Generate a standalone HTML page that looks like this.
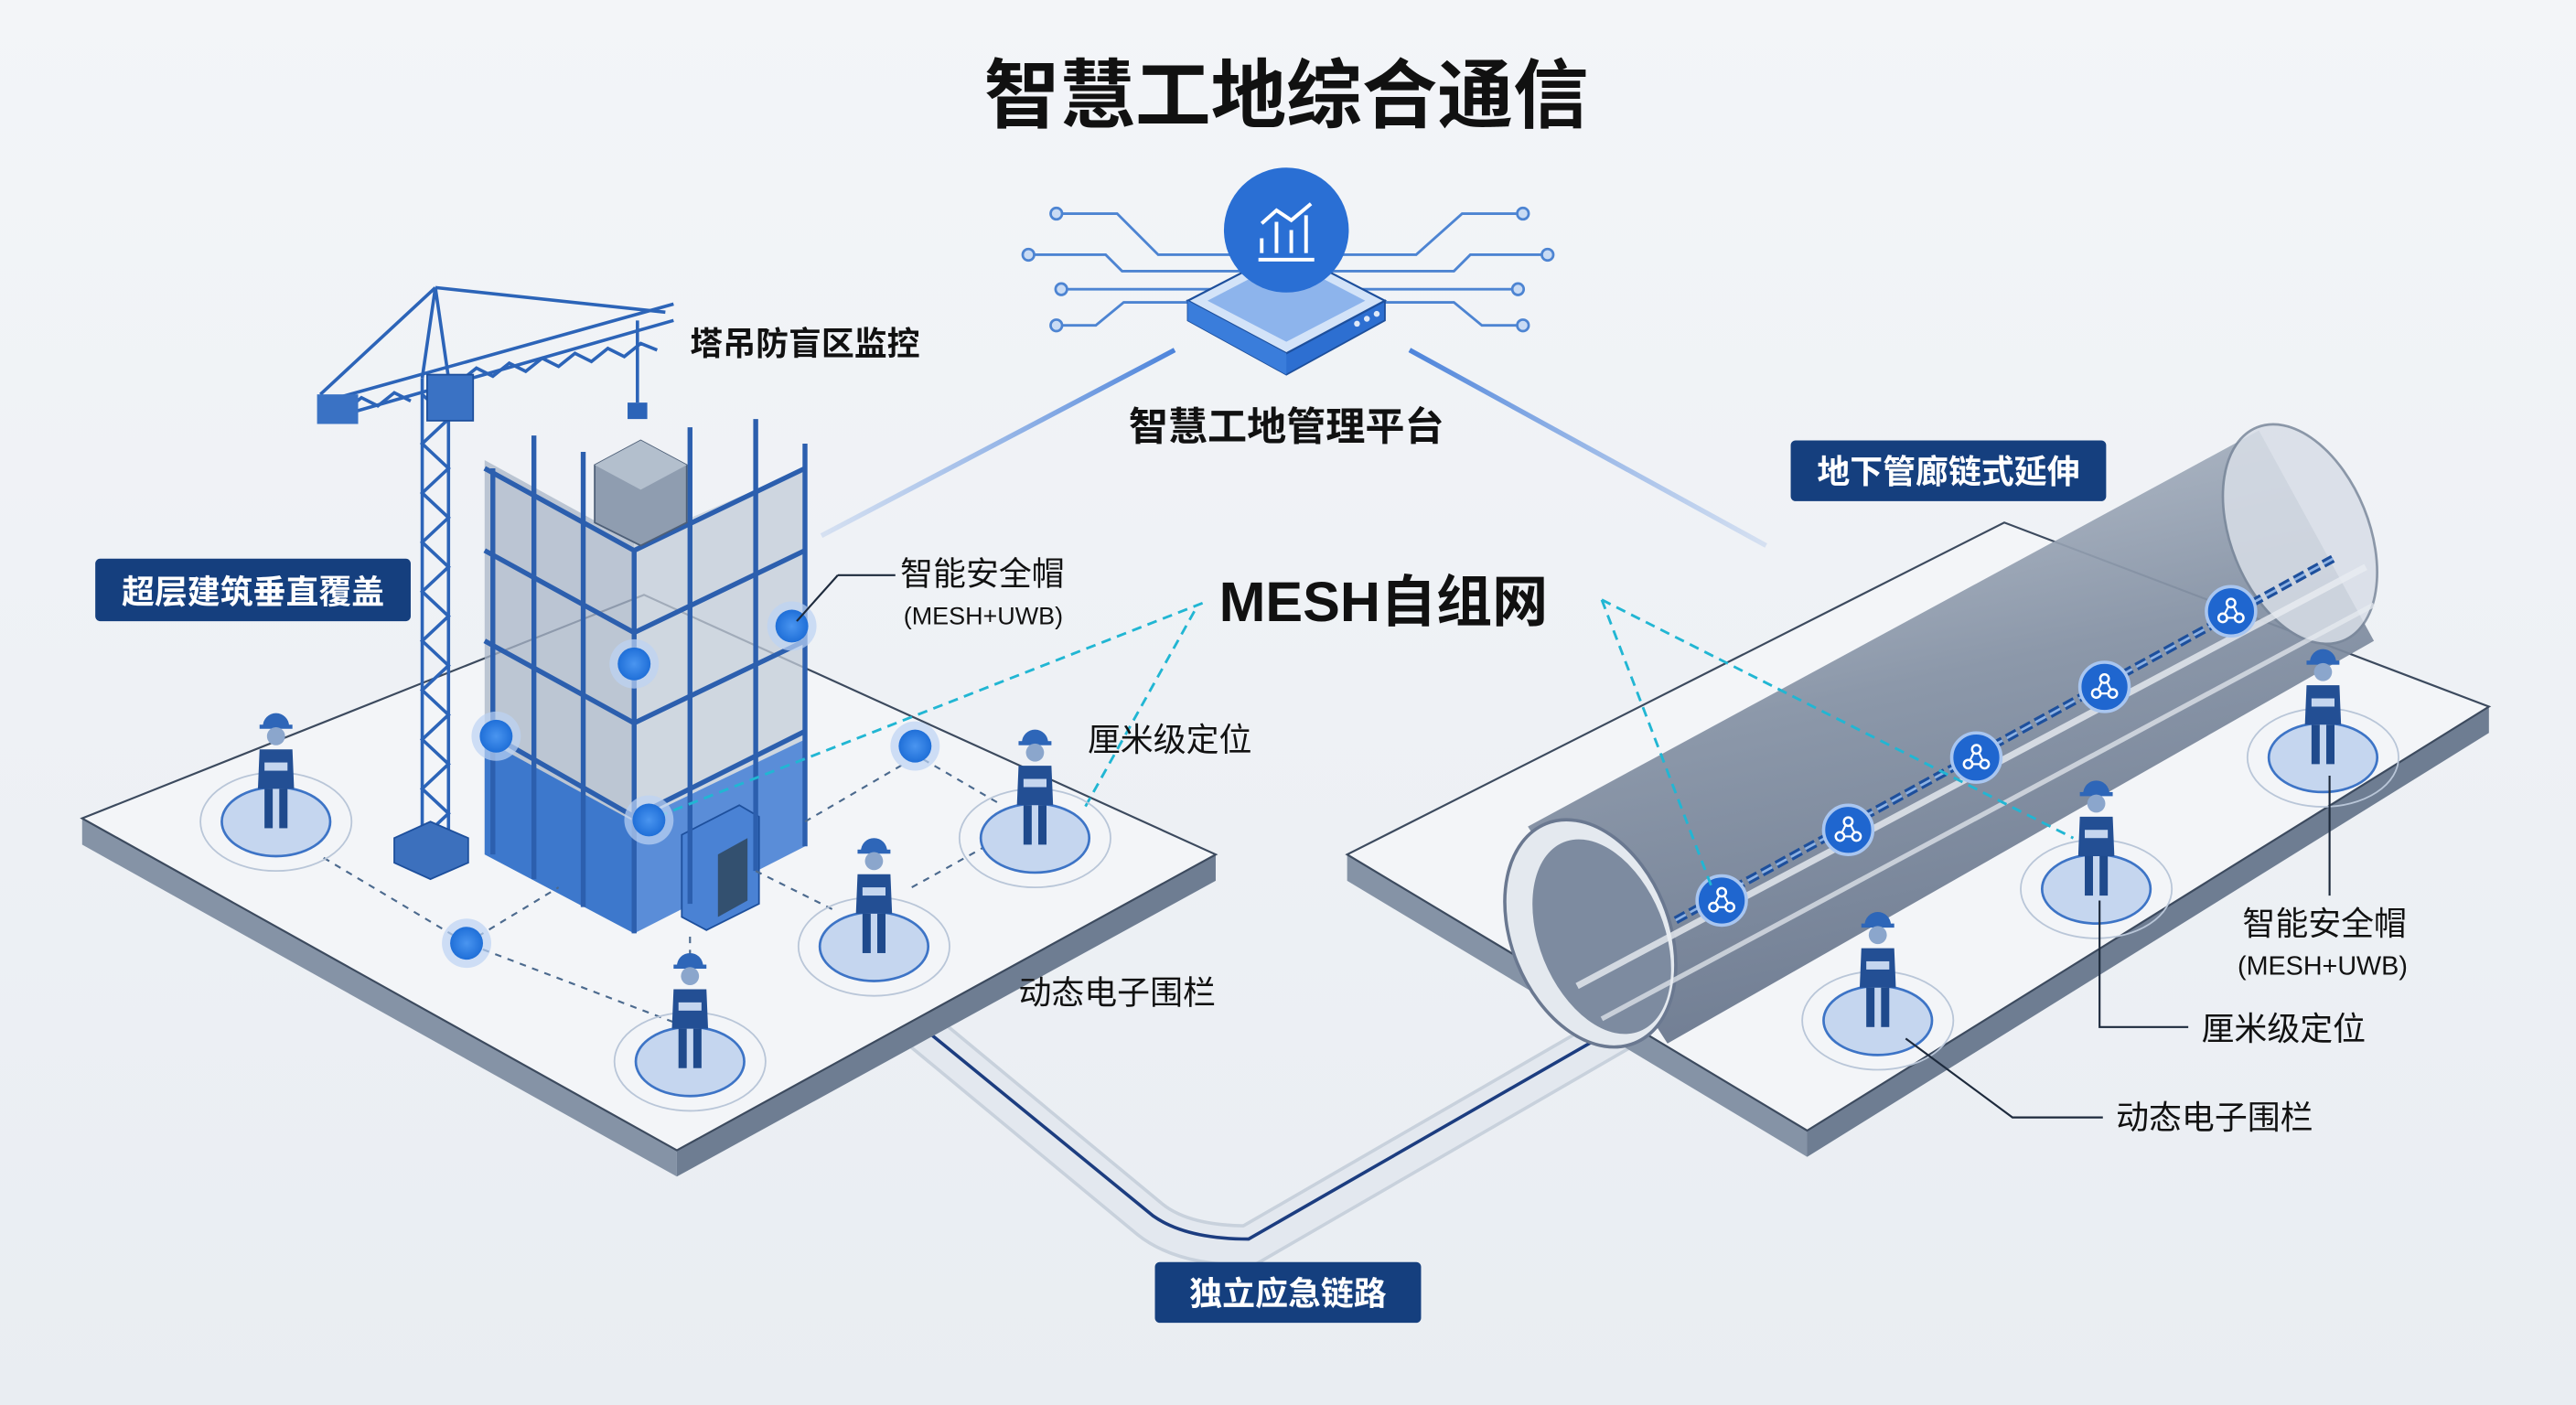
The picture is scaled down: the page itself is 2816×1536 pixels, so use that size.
<!DOCTYPE html>
<html><head><meta charset="utf-8"><style>
html,body{margin:0;padding:0;background:#eef1f5;}
svg{display:block;}
text{font-family:"Liberation Sans","Noto Sans CJK SC",sans-serif;}
</style></head><body>
<svg width="2816" height="1536" viewBox="0 0 1568 855" preserveAspectRatio="none" xmlns="http://www.w3.org/2000/svg">
<defs>
<linearGradient id="bg" x1="0" y1="0" x2="0" y2="1"><stop offset="0" stop-color="#f3f5f8"/><stop offset="1" stop-color="#e9edf2"/></linearGradient>
<linearGradient id="tun" x1="0" y1="0" x2="0.3" y2="1"><stop offset="0" stop-color="#bcc5d1"/><stop offset="0.5" stop-color="#8390a3"/><stop offset="1" stop-color="#65738a"/></linearGradient>
<linearGradient id="ln" x1="0" y1="0" x2="1" y2="0"><stop offset="0" stop-color="#6f9be0" stop-opacity="0.2"/><stop offset="1" stop-color="#4d84db"/></linearGradient>
<linearGradient id="ln2" x1="0" y1="0" x2="1" y2="0"><stop offset="0" stop-color="#4d84db"/><stop offset="1" stop-color="#6f9be0" stop-opacity="0.2"/></linearGradient>
<radialGradient id="nd"><stop offset="0" stop-color="#4a95f0"/><stop offset="1" stop-color="#1f6fd8"/></radialGradient>
<g id="worker">
<ellipse cx="0" cy="18" rx="46" ry="30" fill="none" stroke="#b9c6d8" stroke-width="1"/>
<ellipse cx="0" cy="18" rx="33" ry="21" fill="#c5d6ef" stroke="#3d74c6" stroke-width="1.5"/>
<path d="M-8,-40 a8,8 0 0 1 16,0 z" fill="#2e66b8"/>
<rect x="-10" y="-41" width="20" height="2.5" fill="#2e66b8"/>
<circle cx="0" cy="-34" r="5.5" fill="#8ba6cc"/>
<path d="M-10,-26 h20 l1,24 h-22 z" fill="#234f94"/>
<rect x="-7" y="-18" width="14" height="5" fill="#c5d6ef"/>
<rect x="-7" y="-2" width="5" height="24" fill="#1f4a8c"/>
<rect x="2" y="-2" width="5" height="24" fill="#1f4a8c"/>
</g>
<g id="node">
<circle r="15" fill="#bcd3f3" opacity="0.7"/>
<circle r="10" fill="url(#nd)"/>
</g>
<g id="tnode">
<circle r="15" fill="#1f66cf" stroke="#a9c6f0" stroke-width="2"/>
<circle cx="0" cy="-5" r="2.6" fill="none" stroke="#fff" stroke-width="1.4"/>
<circle cx="-5" cy="4" r="2.6" fill="none" stroke="#fff" stroke-width="1.4"/>
<circle cx="5" cy="4" r="2.6" fill="none" stroke="#fff" stroke-width="1.4"/>
<path d="M-1.5,-3 L-4,2 M1.5,-3 L4,2 M-2.5,4 H2.5" stroke="#fff" stroke-width="1.2"/>
</g>
</defs>
<rect width="1568" height="855" fill="url(#bg)"/>

<text x="783" y="74" font-size="46" font-weight="bold" text-anchor="middle" fill="#111">智慧工地综合通信</text>

<line x1="500" y1="326" x2="715" y2="213" stroke="url(#ln)" stroke-width="3"/>
<line x1="858" y1="213" x2="1075" y2="332" stroke="url(#ln2)" stroke-width="3"/>

<g stroke="#4d84d2" stroke-width="1.6" fill="none">
<path d="M645,130 H680 L705,155 H760"/><path d="M628,155 H673 L683,165 H760"/>
<path d="M648,176 H760"/><path d="M645,198 H667 L684,184 H735"/>
<path d="M925,130 H890 L862,155 H810"/><path d="M940,155 H895 L885,165 H810"/>
<path d="M922,176 H810"/><path d="M925,198 H902 L885,184 H835"/>
</g>
<g fill="#c9dbf4" stroke="#4d84d2" stroke-width="1.5">
<circle cx="643" cy="130" r="3.5"/><circle cx="626" cy="155" r="3.5"/><circle cx="646" cy="176" r="3.5"/><circle cx="643" cy="198" r="3.5"/>
<circle cx="927" cy="130" r="3.5"/><circle cx="942" cy="155" r="3.5"/><circle cx="924" cy="176" r="3.5"/><circle cx="927" cy="198" r="3.5"/>
</g>
<path d="M723,195 L783,228 L843,195 L843,183 L783,215 L723,183 Z" fill="#2d6fd1" stroke="#1d4f9c" stroke-width="1"/>
<path d="M723,183 L783,152 L843,183 L783,215 Z" fill="#d3e3f8" stroke="#1d4f9c" stroke-width="1.2"/>
<path d="M735,183 L783,158 L831,183 L783,208 Z" fill="#8db4ec"/>
<path d="M723,183 L783,215 L783,228 L723,195 Z" fill="#3a7ddb"/>
<circle cx="826" cy="197" r="1.8" fill="#dfe9f8"/><circle cx="832" cy="194" r="1.8" fill="#dfe9f8"/><circle cx="838" cy="191" r="1.8" fill="#dfe9f8"/>
<circle cx="783" cy="140" r="38" fill="#2a6fd4"/>
<g stroke="#fff" stroke-width="2.2" fill="none">
<line x1="766" y1="158" x2="800" y2="158"/>
<line x1="768" y1="154" x2="768" y2="145"/><line x1="777" y1="154" x2="777" y2="135"/><line x1="786" y1="154" x2="786" y2="140"/><line x1="795" y1="154" x2="795" y2="131"/>
<path d="M768,136 L777,128 L786,134 L798,124"/>
</g>
<text x="783" y="268" font-size="24" font-weight="bold" text-anchor="middle" fill="#111">智慧工地管理平台</text>

<path d="M555,622 L700,742 Q720,758 760,758 L990,625" fill="none" stroke="#c8d1dc" stroke-width="26" stroke-linejoin="round"/>
<path d="M555,622 L700,742 Q720,758 760,758 L990,625" fill="none" stroke="#e3e8ef" stroke-width="22" stroke-linejoin="round"/>
<path d="M560,624 L702,740 Q722,754 760,754 L990,622" fill="none" stroke="#1c3d80" stroke-width="2"/>

<path d="M50,498 L412,700 L412,716 L50,514 Z" fill="#8593a6"/>
<path d="M412,700 L740,520 L740,536 L412,716 Z" fill="#6e7d92"/>
<path d="M50,498 L392,362 L740,520 L412,700 Z" fill="#f3f5f8" stroke="#3c4a5e" stroke-width="1.2"/>

<path d="M820,520 L1100,688 L1100,704 L820,536 Z" fill="#8593a6"/>
<path d="M1100,688 L1515,430 L1515,446 L1100,704 Z" fill="#6e7d92"/>
<path d="M820,520 L1220,318 L1515,430 L1100,688 Z" fill="#f3f5f8" stroke="#3c4a5e" stroke-width="1.2"/>

<path d="M930,503 L1375,262 L1445,390 L1015,635 Z" fill="url(#tun)" opacity="0.92"/>
<ellipse cx="1400" cy="325" rx="42" ry="70" transform="rotate(-22 1400 325)" fill="#d8dee7" stroke="#7a889b" stroke-width="1.5" opacity="0.85"/>
<ellipse cx="968" cy="568" rx="48" ry="72" transform="rotate(-22 968 568)" fill="#e4e9ef" stroke="#6a7890" stroke-width="2"/>
<ellipse cx="975" cy="570" rx="38" ry="62" transform="rotate(-22 975 570)" fill="#7d8ba0"/>
<path d="M960,600 L1440,345" stroke="#e9edf2" stroke-width="4" opacity="0.8"/>
<path d="M975,620 L1445,368" stroke="#e9edf2" stroke-width="3" opacity="0.7"/>
<path d="M1020,560 L1420,340" stroke="#1d4f9c" stroke-width="5" stroke-dasharray="7 3"/>
<path d="M1020,560 L1420,340" stroke="#8fb3e4" stroke-width="1.5" stroke-dasharray="7 3"/>
<use href="#tnode" x="1048" y="548"/><use href="#tnode" x="1125" y="505"/><use href="#tnode" x="1203" y="461"/><use href="#tnode" x="1281" y="418"/><use href="#tnode" x="1358" y="372"/>

<g stroke="#2c64b8" stroke-width="2" fill="none">
<line x1="257" y1="230" x2="257" y2="520"/><line x1="273" y1="230" x2="273" y2="520"/>
<path d="M257,240 L273,255 L257,270 L273,285 L257,300 L273,315 L257,330 L273,345 L257,360 L273,375 L257,390 L273,405 L257,420 L273,435 L257,450 L273,465 L257,480 L273,495 L257,510"/>
<path d="M195,245 L410,185 M200,255 L410,195"/>
<path d="M210,250 L220,242 L230,247 L240,239 L250,244 M280,232 L290,224 L300,229 L310,221 L320,226 L330,218 L340,223 L350,215 L360,220 L370,212 L380,217 L390,209 L400,213"/>
<path d="M265,175 L257,230 M265,175 L273,230 M265,175 L195,240 M265,175 L405,190"/>
<line x1="388" y1="195" x2="388" y2="245"/>
</g>
<rect x="193" y="240" width="25" height="18" fill="#3a72c4"/>
<rect x="260" y="228" width="28" height="28" fill="#3a72c4" stroke="#1d4f9c"/>
<rect x="382" y="245" width="12" height="10" fill="#2c64b8"/>
<path d="M240,510 L262,500 L285,510 L285,525 L262,535 L240,525 Z" fill="#3c70bd" stroke="#1d4f9c"/>

<path d="M295,280 L295,520 L386,568 L386,330 Z" fill="#a9b6c7" opacity="0.75"/>
<path d="M386,330 L386,568 L490,515 L490,285 Z" fill="#c3ccd8" opacity="0.75"/>
<path d="M295,450 L295,520 L386,568 L386,500 Z" fill="#3d78cc"/>
<path d="M386,500 L386,568 L490,515 L490,450 Z" fill="#5a8dd8"/>
<path d="M415,508 L450,490 L462,497 L462,550 L430,566 L415,558 Z" fill="#4a82d4" stroke="#1d4f9c"/>
<path d="M437,520 L455,510 L455,548 L437,558 Z" fill="#33506f"/>
<g stroke="#2c5fae" stroke-width="3" fill="none">
<path d="M295,285 L386,335 L490,285"/><path d="M295,335 L386,385 L490,335"/><path d="M295,390 L386,440 L490,390"/><path d="M295,445 L386,497 L490,445"/>
<path d="M300,285 L300,520 M325,265 L325,535 M355,275 L355,552 M386,335 L386,568 M420,260 L420,550 M460,255 L460,530 M490,270 L490,515"/>
</g>
<path d="M362,283 L390,268 L418,283 L418,318 L390,332 L362,318 Z" fill="#8f9db0" stroke="#4e5f77"/>
<path d="M362,283 L390,268 L418,283 L390,298 Z" fill="#b3bfcd"/>

<g stroke="#4c6a8e" stroke-width="1.2" stroke-dasharray="4 4" fill="none">
<path d="M197,522 L284,574 L410,622"/><path d="M284,574 L340,540"/><path d="M420,570 L420,600"/><path d="M555,458 L610,490"/><path d="M460,530 L510,555"/><path d="M555,540 L600,515"/><path d="M490,500 L550,465"/>
</g>
<g stroke="#21b6d3" stroke-width="1.6" stroke-dasharray="6 4" fill="none">
<path d="M732,367 L400,497"/><path d="M727,372 L660,492"/><path d="M975,365 L1042,540"/><path d="M975,365 L1262,510"/>
</g>

<use href="#node" x="302" y="448"/><use href="#node" x="386" y="404"/><use href="#node" x="482" y="381"/><use href="#node" x="395" y="499"/><use href="#node" x="557" y="454"/><use href="#node" x="284" y="574"/>

<use href="#worker" x="168" y="482"/><use href="#worker" x="420" y="628"/><use href="#worker" x="532" y="558"/><use href="#worker" x="630" y="492"/>
<use href="#worker" x="1143" y="603"/><use href="#worker" x="1276" y="523"/><use href="#worker" x="1414" y="443"/>

<g stroke="#1d2a3c" stroke-width="1.2" fill="none">
<path d="M1418,472 L1418,545"/><path d="M1278,548 L1278,625 L1332,625"/><path d="M1160,632 L1225,680 L1280,680"/>
<path d="M510,350 L545,350"/><path d="M510,350 L485,378"/>
</g>

<text x="420" y="216" font-size="20" font-weight="bold" fill="#111">塔吊防盲区监控</text>
<rect x="58" y="340" width="192" height="38" rx="3" fill="#153f7e"/>
<text x="154" y="367" font-size="20" font-weight="bold" text-anchor="middle" fill="#fff">超层建筑垂直覆盖</text>
<text x="548" y="356" font-size="20" fill="#111">智能安全帽</text>
<text x="550" y="380" font-size="15" fill="#111">(MESH+UWB)</text>
<text x="742" y="378" font-size="34" font-weight="bold" fill="#111">MESH自组网</text>
<text x="662" y="457" font-size="20" fill="#111">厘米级定位</text>
<text x="620" y="611" font-size="20" fill="#111">动态电子围栏</text>
<rect x="1090" y="268" width="192" height="37" rx="3" fill="#153f7e"/>
<text x="1186" y="294" font-size="20" font-weight="bold" text-anchor="middle" fill="#fff">地下管廊链式延伸</text>
<text x="1365" y="569" font-size="20" fill="#111">智能安全帽</text>
<text x="1362" y="593" font-size="16" fill="#111">(MESH+UWB)</text>
<text x="1340" y="633" font-size="20" fill="#111">厘米级定位</text>
<text x="1288" y="687" font-size="20" fill="#111">动态电子围栏</text>
<rect x="703" y="768" width="162" height="37" rx="3" fill="#153f7e"/>
<text x="784" y="794" font-size="20" font-weight="bold" text-anchor="middle" fill="#fff">独立应急链路</text>
</svg>
</body></html>
